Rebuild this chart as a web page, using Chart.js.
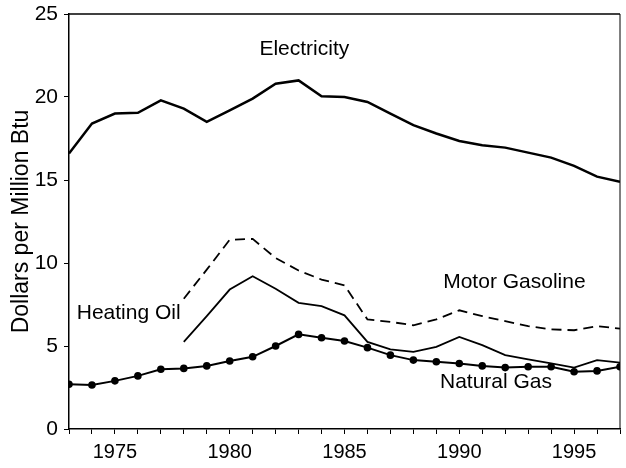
<!DOCTYPE html>
<html>
<head>
<meta charset="utf-8">
<script src="https://cdn.jsdelivr.net/npm/chart.js@4.4.0/dist/chart.umd.min.js"></script>
<style>
  html, body { margin: 0; padding: 0; background: #fff; }
  #wrap { width: 626px; height: 468px; }
</style>
</head>
<body>
<div id="wrap"><canvas id="myChart"></canvas></div>
<script>
// years 1973..1997
const years = [1973,1974,1975,1976,1977,1978,1979,1980,1981,1982,1983,1984,1985,
               1986,1987,1988,1989,1990,1991,1992,1993,1994,1995,1996,1997];
const electricity = [16.6,18.4,19.0,19.05,19.8,19.3,18.5,19.2,19.9,20.8,21.0,20.05,20.0,
                     19.7,19.0,18.3,17.8,17.35,17.1,16.95,16.65,16.35,15.85,15.2,14.9];
const motorGasoline = [null,null,null,null,null,7.85,9.6,11.4,11.45,10.3,9.55,9.0,8.65,
                       6.6,6.45,6.25,6.6,7.15,6.8,6.5,6.2,6.0,5.95,6.2,6.05];
const heatingOil = [null,null,null,null,null,5.25,6.8,8.4,9.2,8.45,7.6,7.4,6.85,
                    5.25,4.8,4.65,4.95,5.55,5.05,4.45,4.2,3.95,3.7,4.15,4.0];
const naturalGas = [2.7,2.65,2.9,3.2,3.6,3.65,3.8,4.1,4.35,5.0,5.7,5.5,5.3,
                    4.9,4.45,4.15,4.05,3.95,3.8,3.7,3.75,3.75,3.45,3.5,3.75];
const yTicks = [0,5,10,15,20,25];
// series captions: [text, year, value]
const captions = [
  ["Electricity", 1983.25, 22.9],
  ["Motor Gasoline", 1992.4, 8.85],
  ["Heating Oil", 1975.6, 6.95],
  ["Natural Gas", 1991.6, 2.8]
];

const pts = arr => years.map((y, i) => ({x: y, y: arr[i]}));

const captionPlugin = {
  id: 'captions',
  afterDatasetsDraw(chart) {
    const {ctx, scales: {x, y}} = chart;
    ctx.save();
    ctx.fillStyle = '#000';
    ctx.font = '21px "Liberation Sans", Arial, sans-serif';
    ctx.textAlign = 'center';
    ctx.textBaseline = 'middle';
    captions.forEach(c => ctx.fillText(c[0], x.getPixelForValue(c[1]), y.getPixelForValue(c[2])));
    ctx.restore();
  }
};

const boxPlugin = {
  id: 'box',
  afterDraw(chart) {
    const {ctx, chartArea: a} = chart;
    ctx.save();
    ctx.strokeStyle = '#000';
    ctx.lineWidth = 1.5;
    ctx.beginPath();
    ctx.moveTo(a.left, a.top);
    ctx.lineTo(a.right, a.top);
    ctx.stroke();
    ctx.lineWidth = 1;
    ctx.beginPath();
    ctx.moveTo(a.right, a.top);
    ctx.lineTo(a.right, a.bottom);
    ctx.stroke();
    ctx.restore();
  }
};

Chart.defaults.font.family = '"Liberation Sans", Arial, sans-serif';
Chart.defaults.color = '#000';

new Chart(document.getElementById('myChart'), {
  type: 'line',
  data: {
    datasets: [
      { label: 'Electricity', data: pts(electricity), borderColor: '#000', borderWidth: 2.5, pointRadius: 0 },
      { label: 'Motor Gasoline', data: pts(motorGasoline), borderColor: '#000', borderWidth: 1.8, borderDash: [10, 6], pointRadius: 0 },
      { label: 'Heating Oil', data: pts(heatingOil), borderColor: '#000', borderWidth: 1.8, pointRadius: 0 },
      { label: 'Natural Gas', data: pts(naturalGas), borderColor: '#000', borderWidth: 2,
        pointRadius: 2.8, pointBackgroundColor: '#000', pointBorderColor: '#000' }
    ]
  },
  options: {
    responsive: true,
    maintainAspectRatio: false,
    animation: false,
    layout: { padding: { top: 14, right: 1, left: 0, bottom: 0 } },
    plugins: { legend: { display: false }, tooltip: { enabled: false } },
    scales: {
      x: {
        type: 'linear', min: 1973, max: 1997,
        afterFit(s) { s.height = 39; s.paddingLeft = 0; s.paddingRight = 0; },
        border: { color: '#000', width: 1.5 },
        grid: { drawOnChartArea: false, drawTicks: true, tickLength: 5, tickColor: '#000' },
        ticks: {
          stepSize: 1, autoSkip: false, maxRotation: 0, padding: 6,
          font: { size: 20 },
          callback: v => (v % 5 === 0 ? String(v) : '')
        }
      },
      y: {
        min: 0, max: 25,
        afterFit(s) { s.width = 69; s.paddingTop = 0; s.paddingBottom = 0; },
        afterBuildTicks(s) { s.ticks = yTicks.map(v => ({value: v})); },
        border: { color: '#000', width: 1.5 },
        grid: { drawOnChartArea: false, drawTicks: true, tickLength: 5, tickColor: '#000' },
        ticks: { padding: 6, font: { size: 21 } },
        title: { display: true, text: 'Dollars per Million Btu', font: { size: 23 }, padding: { top: 8, bottom: 0 } }
      }
    }
  },
  plugins: [captionPlugin, boxPlugin]
});
</script>
</body>
</html>
